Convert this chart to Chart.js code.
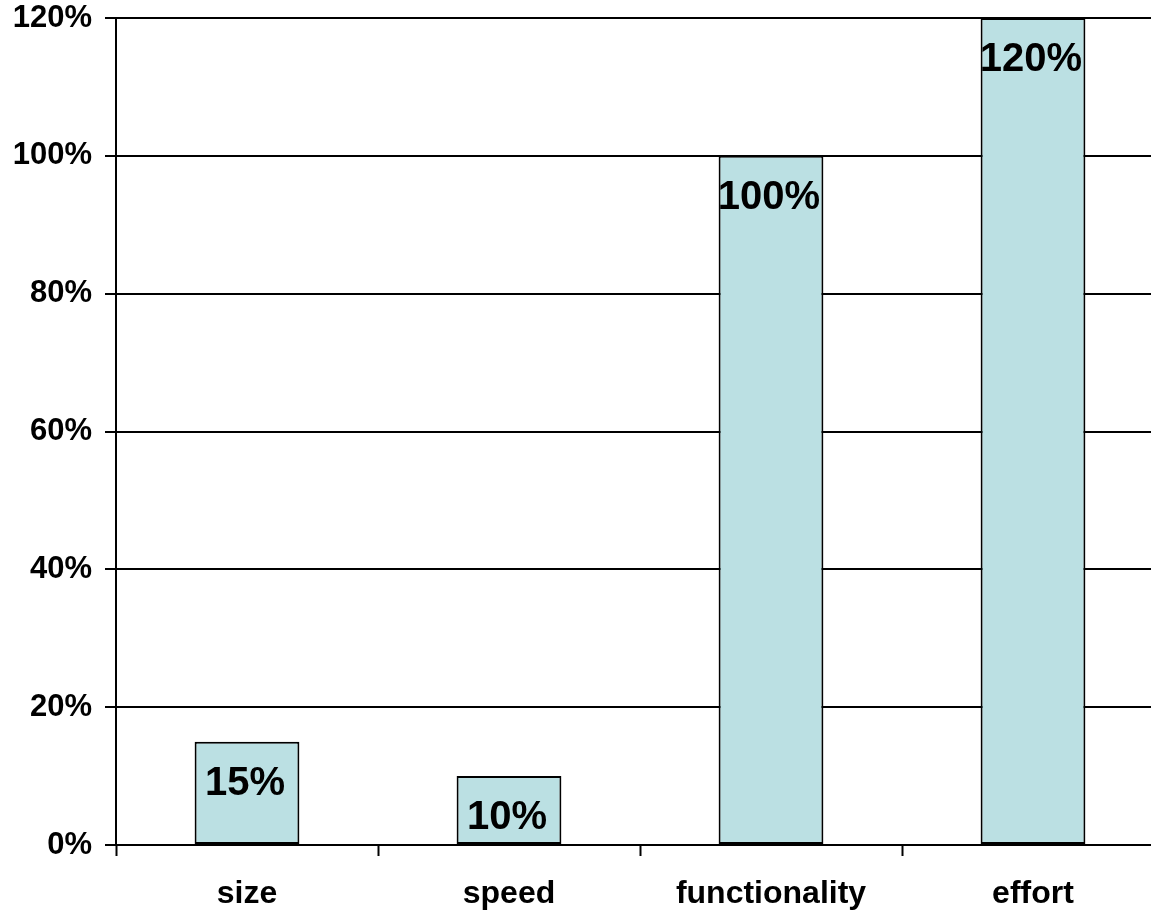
<!DOCTYPE html>
<html>
<head>
<meta charset="utf-8">
<script src="https://cdn.jsdelivr.net/npm/chart.js@4.4.1/dist/chart.umd.min.js"></script>
<style>
  html, body { margin: 0; padding: 0; background: #ffffff; overflow: hidden; }
  #wrap { position: absolute; left: 0; top: 0; width: 1164px; height: 914px; }
</style>
</head>
<body>
<div id="wrap"><canvas id="c" width="1164" height="914"></canvas></div>
<script>
const categories = ["size", "speed", "functionality", "effort"];
const values = [15, 10, 100, 120];
const valueLabels = ["15%", "10%", "100%", "120%"];
const yMax = 120;
const yStep = 20;

const FONT = "'Liberation Sans', Arial, Helvetica, sans-serif";

const barLabels = {
  id: 'barLabels',
  afterDatasetsDraw(chart) {
    const ctx = chart.ctx;
    const meta = chart.getDatasetMeta(0);
    ctx.save();
    ctx.font = "bold 40px " + FONT;
    ctx.fillStyle = "#000000";
    ctx.textAlign = "center";
    ctx.textBaseline = "middle";
    meta.data.forEach((bar, i) => {
      ctx.fillText(valueLabels[i], bar.x - 2, bar.y + 42);
    });
    ctx.restore();
  }
};

new Chart(document.getElementById('c'), {
  type: 'bar',
  data: {
    labels: categories,
    datasets: [{
      data: values,
      backgroundColor: '#BBE0E3',
      borderColor: '#000000',
      borderWidth: 2,
      borderSkipped: false,
      categoryPercentage: 0.8,
      barPercentage: 0.5
    }]
  },
  options: {
    responsive: false,
    animation: false,
    devicePixelRatio: 1,
    layout: { padding: { top: 18, right: 0, bottom: 0, left: 0 } },
    plugins: {
      legend: { display: false },
      tooltip: { enabled: false }
    },
    scales: {
      x: {
        grid: {
          display: true,
          drawOnChartArea: false,
          drawTicks: true,
          tickLength: 11,
          tickColor: '#000000',
          tickWidth: 2,
          offset: true
        },
        border: { display: true, color: '#000000', width: 2 },
        ticks: {
          color: '#000000',
          font: { family: FONT, size: 32, weight: 'bold' },
          padding: 19,
          maxRotation: 0,
          autoSkip: false
        },
        afterFit(scale) { scale.height = 69; scale.paddingLeft = 0; scale.paddingRight = 0; }
      },
      y: {
        min: 0,
        max: yMax,
        grid: {
          color: '#000000',
          lineWidth: 2,
          tickLength: 11,
          tickColor: '#000000',
          tickWidth: 2
        },
        border: { display: true, color: '#000000', width: 2 },
        ticks: {
          stepSize: yStep,
          color: '#000000',
          font: { family: FONT, size: 31, weight: 'bold' },
          padding: 13,
          callback: (v) => v + '%'
        },
        afterFit(scale) { scale.width = 116; scale.paddingTop = 0; scale.paddingBottom = 0; }
      }
    }
  },
  plugins: [barLabels]
});
</script>
</body>
</html>
